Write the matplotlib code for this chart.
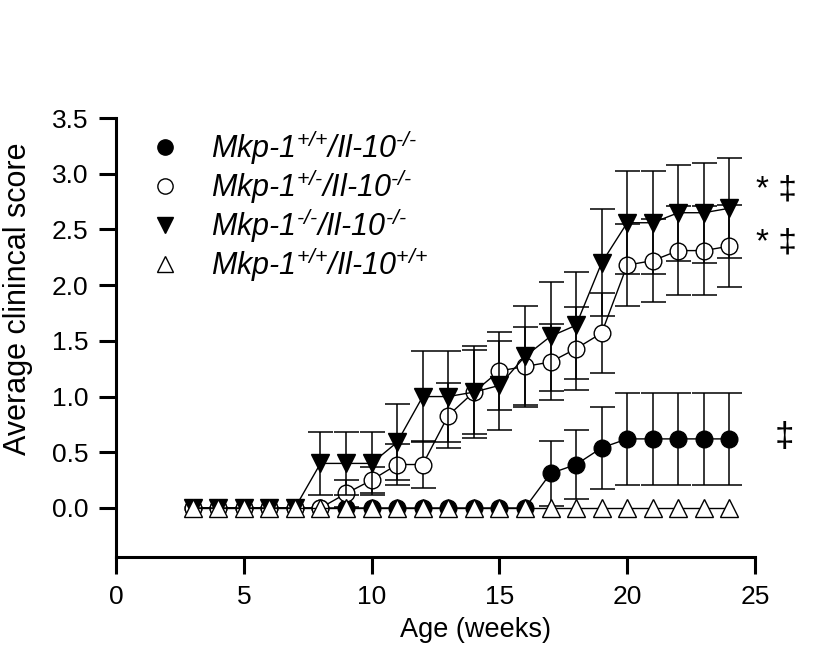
import matplotlib.pyplot as plt
from matplotlib.lines import Line2D

plt.rcParams['font.family'] = ['Liberation Sans', 'DejaVu Sans']
plt.rcParams['mathtext.fontset'] = 'custom'
plt.rcParams['mathtext.rm'] = 'Liberation Sans:italic'
plt.rcParams['mathtext.it'] = 'Liberation Sans:italic'

# data
weeks = [3, 4, 5, 6, 7, 8, 9, 10, 11, 12, 13, 14, 15, 16, 17, 18, 19, 20, 21, 22, 23, 24]

wt_ko = [0, 0, 0, 0, 0, 0, 0, 0, 0, 0, 0, 0, 0, 0,
         0.31, 0.39, 0.54, 0.62, 0.62, 0.62, 0.62, 0.62]
wt_ko_err = [0, 0, 0, 0, 0, 0, 0, 0, 0, 0, 0, 0, 0, 0,
             0.29, 0.31, 0.37, 0.41, 0.41, 0.41, 0.41, 0.41]

het_ko = [0, 0, 0, 0, 0, 0, 0.13, 0.25, 0.39, 0.39, 0.83, 1.04, 1.23, 1.27,
          1.31, 1.43, 1.57, 2.18, 2.22, 2.31, 2.31, 2.35]
het_ko_err = [0, 0, 0, 0, 0, 0, 0.12, 0.12, 0.18, 0.21, 0.29, 0.38, 0.35, 0.35,
              0.34, 0.37, 0.36, 0.37, 0.37, 0.40, 0.40, 0.37]

ko_ko = [0, 0, 0, 0, 0, 0.40, 0.40, 0.40, 0.59, 1.00, 1.00, 1.04, 1.10, 1.36,
         1.54, 1.64, 2.20, 2.56, 2.56, 2.65, 2.65, 2.69]
ko_ko_err = [0, 0, 0, 0, 0, 0.28, 0.28, 0.28, 0.34, 0.41, 0.41, 0.41, 0.40, 0.45,
             0.49, 0.48, 0.48, 0.46, 0.46, 0.43, 0.45, 0.45]

wt_wt = [0, 0, 0, 0, 0, 0, 0, 0, 0, 0, 0, 0, 0, 0,
         0, 0, 0, 0, 0, 0, 0, 0]

labels = [r'Mkp-1$^{\text{+/+}}$/Il-10$^{\text{-/-}}$',
          r'Mkp-1$^{\text{+/-}}$/Il-10$^{\text{-/-}}$',
          r'Mkp-1$^{\text{-/-}}$/Il-10$^{\text{-/-}}$',
          r'Mkp-1$^{\text{+/+}}$/Il-10$^{\text{+/+}}$']

fig = plt.figure(figsize=(8.21, 6.52), dpi=100)
ax = fig.add_axes([0.1413, 0.1457, 0.7783, 0.6733])

series = [
    (wt_ko, wt_ko_err, 'o', 'black', 12),
    (het_ko, het_ko_err, 'o', 'white', 12),
    (ko_ko, ko_ko_err, 'v', 'black', 13),
    (wt_wt, None, '^', 'white', 13),
]

z = 2
for vals, err, mk, fc, ms in series:
    if err is not None:
        xs = [w for w, e in zip(weeks, err) if e > 0]
        ys = [v for v, e in zip(vals, err) if e > 0]
        es = [e for e in err if e > 0]
        ax.errorbar(xs, ys, yerr=es, fmt='none', ecolor='black',
                    elinewidth=1.1, capsize=9, capthick=1.1, zorder=z)
    ax.plot(weeks, vals, color='black', lw=1, marker=mk, ms=ms,
            mfc=fc, mec='black', mew=1, zorder=z + 1)
    z += 2

handles = [Line2D([], [], ls='none', marker=mk, ms=ms - 1, mfc=fc, mec='black', mew=1)
           for _, _, mk, fc, ms in series]
ax.legend(handles, labels, loc='upper left', bbox_to_anchor=(0.0, 1.02),
          frameon=False, handletextpad=0.5, labelspacing=0.0,
          borderaxespad=0.2, prop={'style': 'italic', 'size': 22})

# significance marks
ax.text(25.05, 2.85, '* \u2021', fontsize=24, va='center', ha='left', clip_on=False)
ax.text(25.05, 2.38, '* \u2021', fontsize=24, va='center', ha='left', clip_on=False)
ax.text(25.75, 0.63, '\u2021', fontsize=25, va='center', ha='left', clip_on=False)

ax.set_xlim(0, 25)
ax.set_ylim(-0.44, 3.5)
ax.set_xticks([0, 5, 10, 15, 20, 25])
ax.set_yticks([0.0, 0.5, 1.0, 1.5, 2.0, 2.5, 3.0, 3.5])
ax.set_yticklabels(['0.0', '0.5', '1.0', '1.5', '2.0', '2.5', '3.0', '3.5'])

for s in ['top', 'right']:
    ax.spines[s].set_visible(False)
for s in ['left', 'bottom']:
    ax.spines[s].set_linewidth(2.2)
ax.tick_params(direction='out', length=12, width=2.2, labelsize=19, pad=8)

ax.set_xlabel('Age (weeks)', fontsize=19.5)
ax.set_ylabel('Average clinincal score', fontsize=22)
ax.xaxis.set_label_coords(0.563, -0.136)
ax.yaxis.set_label_coords(-0.13, 0.588)

fig.savefig('out.png', dpi=100)
